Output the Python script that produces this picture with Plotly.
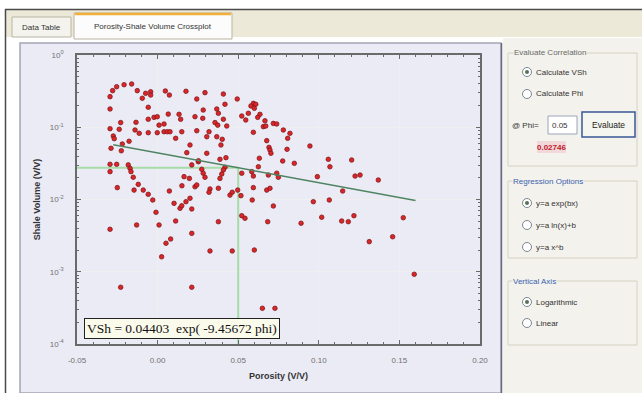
import plotly.graph_objects as go
import numpy as np

# ---------------- data ----------------
porosity = [
    -0.0279, -0.0254, -0.0208, -0.0161, -0.0126, -0.0095, -0.0074, -0.0043, -0.0043, -0.0295,
    -0.0295, -0.0058, 0.0048, 0.0073, 0.0176, 0.0066, 0.0133, 0.0143, -0.0058, -0.0022,
    -0.0002, -0.0229, -0.0134, 0.0009, 0.0040, -0.0295, -0.0238, -0.0140, -0.0114, -0.0058,
    -0.0002, 0.0040, 0.0060, 0.0077, 0.0150, -0.0275, -0.0269, 0.0112, -0.0219, -0.0177,
    -0.0289, -0.0225, 0.0181, 0.0201, -0.0295, -0.0254, -0.0295, -0.0182, -0.0171, -0.0165,
    -0.0151, 0.0212, 0.0253, 0.0164, 0.0197, 0.0294, 0.0408, 0.0494, 0.0243, 0.0418,
    0.0594, 0.0609, 0.0579, 0.0600, 0.0283, 0.0367, 0.0377, 0.0563, 0.0522, 0.0547,
    0.0232, 0.0280, 0.0408, 0.0635, 0.0621, 0.0666, 0.0356, 0.0373, 0.0429, 0.0718,
    0.0739, 0.0656, 0.0671, 0.0243, 0.0319, 0.0594, 0.0780, 0.0821, 0.0305, 0.0367,
    0.0401, 0.0393, 0.0677, 0.0807, 0.0691, 0.0697, 0.0703, 0.0803, 0.0945, 0.0305,
    0.0387, 0.0424, 0.0631, 0.0776, 0.0848, 0.0253, 0.0625, 0.0274, 0.0283, 0.0294,
    0.0418, 0.0408, 0.0398, 0.0387, 0.0522, 0.0584, 0.0594, 0.0687, 0.0739, 0.0749,
    0.1059, 0.1069, 0.1204, 0.0991, 0.1225, 0.1256, 0.1369, -0.0120, -0.0089, -0.0058,
    -0.0030, -0.0146, -0.0250, -0.0010, 0.0009, -0.0295, -0.0130, 0.0112, 0.0081, 0.0052,
    0.0025, 0.0073, 0.0102, 0.0139, 0.0150, 0.0176, 0.0201, 0.0232, 0.0212, 0.0212,
    -0.0229, 0.0212, 0.0151, 0.0243, 0.0325, 0.0319, 0.0377, 0.0449, 0.0463, 0.0497,
    0.0517, 0.0594, 0.0587, 0.0677, 0.0697, 0.0718, 0.0522, 0.0542, 0.0377, 0.0683,
    0.0890, 0.0325, 0.0463, 0.0600, 0.0966, 0.0650, 0.0728, 0.1148, 0.1065, 0.1018,
    0.1142, 0.1183, 0.1218, 0.1524, 0.1313, 0.1458, 0.1592,
]
shale_volume = [
    0.321, 0.364, 0.388, 0.397, 0.321, 0.252, 0.295, 0.310, 0.279, 0.265,
    0.179, 0.189, 0.318, 0.279, 0.315, 0.152, 0.151, 0.129, 0.129, 0.137,
    0.140, 0.116, 0.117, 0.107, 0.111, 0.0955, 0.0937, 0.0916, 0.0824, 0.0841,
    0.0841, 0.0867, 0.0867, 0.0867, 0.0867, 0.0757, 0.0695, 0.0703, 0.0586, 0.0640,
    0.0512, 0.0473, 0.0445, 0.0568, 0.0307, 0.0307, 0.0243, 0.0301, 0.0270, 0.0243,
    0.0203, 0.0301, 0.0333, 0.0207, 0.0196, 0.301, 0.288, 0.246, 0.246, 0.208,
    0.214, 0.208, 0.197, 0.183, 0.173, 0.179, 0.156, 0.156, 0.143, 0.126,
    0.140, 0.133, 0.129, 0.151, 0.137, 0.123, 0.116, 0.107, 0.104, 0.113,
    0.111, 0.102, 0.104, 0.0896, 0.0867, 0.0851, 0.0916, 0.0824, 0.0740, 0.0740,
    0.0681, 0.0568, 0.0652, 0.0703, 0.0527, 0.0484, 0.0436, 0.0495, 0.0550, 0.0436,
    0.0360, 0.0379, 0.0372, 0.0341, 0.0317, 0.0344, 0.0284, 0.0262, 0.0231, 0.0203,
    0.0279, 0.0256, 0.0225, 0.0196, 0.0231, 0.0243, 0.0211, 0.0218, 0.0231, 0.0203,
    0.0360, 0.0284, 0.0352, 0.0207, 0.0211, 0.0218, 0.0186, 0.0162, 0.0135, 0.0118,
    0.00984, 0.0135, 0.0146, 0.00665, 0.00444, 0.00387, 0.00444, 0.00504, 0.00284, 0.00248,
    0.00161, 0.0131, 0.00885, 0.00755, 0.00820, 0.00933, 0.0104, 0.0150, 0.00739, 0.00340,
    0.000610, 0.000610, 0.0155, 0.0159, 0.0140, 0.0126, 0.0143, 0.0115, 0.0126, 0.0135,
    0.0113, 0.0146, 0.00984, 0.0135, 0.0143, 0.00813, 0.00597, 0.00550, 0.00493, 0.00493,
    0.00469, 0.00194, 0.00194, 0.00200, 0.00933, 0.000312, 0.000312, 0.0131, 0.00984, 0.00568,
    0.00504, 0.00493, 0.00597, 0.00560, 0.00261, 0.00305, 0.000923,
]

fit_a = 0.04403
fit_b = -9.45672
fit_phi_range = [-0.0275, 0.16]
eval_phi = 0.05
eval_vsh = 0.02746

x_tick_vals = [-0.05, 0.00, 0.05, 0.10, 0.15, 0.20]
x_tick_text = ["-0.05", "0.00", "0.05", "0.10", "0.15", "0.20"]
y_tick_vals = [1e-4, 1e-3, 1e-2, 1e-1, 1]
y_tick_text = ["10<sup>-4</sup>", "10<sup>-3</sup>", "10<sup>-2</sup>", "10<sup>-1</sup>", "10<sup>0</sup>"]

# ---------------- layout geometry (pixels) ----------------
W, H = 642, 393
PL, PR, PT, PB = 77, 480, 55, 344  # plot area edges


def px(x):
    return (x - PL) / (PR - PL)


def py(y):
    return (PB - y) / (PB - PT)


UI = "Liberation Sans"

fig = go.Figure()

# crosshair at evaluated point
fig.add_trace(go.Scatter(
    x=[-0.05, eval_phi, eval_phi], y=[eval_vsh, eval_vsh, 1e-4],
    mode="lines", line=dict(color="#a6dca6", width=2), hoverinfo="skip", showlegend=False))

# data points
fig.add_trace(go.Scatter(
    x=porosity, y=shale_volume, mode="markers",
    marker=dict(size=4.6, color="#d8262a", line=dict(color="#7a1414", width=0.7)),
    showlegend=False))

# regression line
fit_x = np.array(fit_phi_range)
fit_y = fit_a * np.exp(fit_b * fit_x)
fig.add_trace(go.Scatter(
    x=fit_x, y=fit_y, mode="lines", line=dict(color="#4e8462", width=1.5),
    hoverinfo="skip", showlegend=False))

shapes = []
annotations = []


def rect(x0, y0, x1, y1, fill="rgba(0,0,0,0)", line=None, lw=1, layer="below"):
    shapes.append(dict(type="rect", xref="paper", yref="paper",
                       x0=px(x0), x1=px(x1), y0=py(y1), y1=py(y0),
                       fillcolor=fill, layer=layer,
                       line=dict(color=line if line else "rgba(0,0,0,0)", width=lw if line else 0)))


def hline(x0, x1, y, color, lw=1, layer="below"):
    shapes.append(dict(type="line", xref="paper", yref="paper",
                       x0=px(x0), x1=px(x1), y0=py(y), y1=py(y),
                       line=dict(color=color, width=lw), layer=layer))


def vline(x, y0, y1, color, lw=1, layer="below"):
    shapes.append(dict(type="line", xref="paper", yref="paper",
                       x0=px(x), x1=px(x), y0=py(y0), y1=py(y1),
                       line=dict(color=color, width=lw), layer=layer))


def text(x, y, s, size=8.5, color="#333333", anchor="left", bold=False, bg=None, family=UI):
    annotations.append(dict(xref="paper", yref="paper", x=px(x), y=py(y), text=("<b>%s</b>" % s) if bold else s,
                            showarrow=False, xanchor=anchor, yanchor="middle",
                            font=dict(family=family, size=size, color=color),
                            bgcolor=bg, borderpad=0))


def radio(cx, cy, selected=False):
    r = 4.5
    shapes.append(dict(type="circle", xref="paper", yref="paper", layer="above",
                       x0=px(cx - r), x1=px(cx + r), y0=py(cy + r), y1=py(cy - r),
                       fillcolor="#ffffff", line=dict(color="#7b8794", width=1)))
    if selected:
        r2 = 2
        shapes.append(dict(type="circle", xref="paper", yref="paper", layer="above",
                           x0=px(cx - r2), x1=px(cx + r2), y0=py(cy + r2), y1=py(cy - r2),
                           fillcolor="#58705a", line=dict(width=0)))


# window frame and tab strip
rect(6, 10, 642, 37, fill="#ece9d8")
hline(5, 642, 9.5, "#4a4a4a", 1.5)
vline(5.5, 9, 393, "#4a4a4a", 1.5)
rect(12, 17, 71, 37, fill="#f4f3ee", line="#b9b5a2")
text(41.5, 28, "Data Table", size=8, anchor="center")
rect(74, 13, 232, 39, fill="#fcfcfc", line="#b9b5a2")
hline(75, 231, 14, "#f0b03a", 2.5)
text(153, 26, "Porosity-Shale Volume Crossplot", size=8, anchor="center")

# chart panel
rect(20, 43, 501, 393, fill="#ebebf6", line="#a5a5b5", lw=1.5)
vline(501.5, 43, 393, "#6a6a80", 1.5)

# right options panel
rect(503, 38, 642, 393, fill="#f3f2ec")
PANEL_BG = "#f3f2ec"
TITLE_BLUE = "#3a62b0"

# Evaluate Correlation group
rect(508, 53, 637, 166, line="#d6d2c2")
text(513, 53, "Evaluate Correlation", size=8, color="#6a6a6a", bg=PANEL_BG)
radio(527, 72, True)
text(535, 72, "Calculate VSh", size=8)
radio(527, 94)
text(535, 94, "Calculate Phi", size=8)
text(511, 125, "@ Phi=", size=8)
rect(548, 116, 577, 134, fill="#ffffff", line="#9aa6b8")
text(551, 125, "0.05", size=8)
rect(582, 112, 635, 137, fill="#f6f6f0", line="#3a5898", lw=1.5)
text(608.5, 124.5, "Evaluate", size=8.5, anchor="center", color="#222222")
rect(537, 141, 566, 153, fill="#f2d9d9")
text(551.5, 147, "0.02746", size=8, anchor="center", color="#c0202e", bold=True)

# Regression Options group
rect(508, 181, 637, 258, line="#d6d2c2")
text(512, 181, "Regression Options", size=8, color=TITLE_BLUE, bg=PANEL_BG)
radio(527, 203, True)
text(535, 203, "y=a exp(bx)", size=8)
radio(527, 225)
text(535, 225, "y=a ln(x)+b", size=8)
radio(527, 247)
text(535, 247, "y=a x^b", size=8)

# Vertical Axis group
rect(508, 281, 637, 345, line="#d6d2c2")
text(512, 281, "Vertical Axis", size=8, color=TITLE_BLUE, bg=PANEL_BG)
radio(527, 302, True)
text(535, 302, "Logarithmic", size=8)
radio(527, 323)
text(535, 323, "Linear", size=8)

# equation box
annotations.append(dict(xref="paper", yref="paper", x=px(182), y=py(328),
                        text="VSh = %.5f  exp( %.5f phi)" % (fit_a, fit_b),
                        showarrow=False, xanchor="center", yanchor="middle",
                        font=dict(family="Liberation Serif", size=13.5, color="#111111"),
                        bgcolor="#fbfbec", bordercolor="#222222", borderwidth=1, borderpad=2))

axis_common = dict(
    showline=True, linecolor="#6a6a6a", linewidth=1.5, mirror="allticks",
    ticks="inside", ticklen=4, tickcolor="#6a6a6a", tickwidth=1,
    showgrid=True, gridcolor="#efefef", gridwidth=1, zeroline=False,
    tickfont=dict(family=UI, size=8, color="#707070"),
)

fig.update_layout(
    width=W, height=H,
    margin=dict(l=PL, r=W - PR, t=PT, b=H - PB, pad=0),
    paper_bgcolor="#ffffff", plot_bgcolor="#ffffff",
    shapes=shapes, annotations=annotations,
    xaxis=dict(range=[-0.05, 0.20], tickmode="array", tickvals=x_tick_vals, ticktext=x_tick_text,
               ticklabelstandoff=8,
               minor=dict(dtick=0.01, tick0=0, ticks="inside", ticklen=2.5, tickcolor="#6a6a6a", showgrid=False),
               title=dict(text="<b>Porosity (V/V)</b>", standoff=8,
                          font=dict(family=UI, size=9, color="#333333")),
               **axis_common),
    yaxis=dict(type="log", range=[-4, 0], tickmode="array", tickvals=y_tick_vals, ticktext=y_tick_text,
               ticklabelstandoff=10,
               minor=dict(dtick="D1", ticks="inside", ticklen=2.5, tickcolor="#6a6a6a", showgrid=False),
               title=dict(text="<b>Shale Volume (V/V)</b>", standoff=8,
                          font=dict(family=UI, size=9, color="#333333")),
               **axis_common),
)

fig.write_html("out.html", config={"displayModeBar": False},
               post_script="document.body.style.margin='0';document.body.style.overflow='hidden';")
